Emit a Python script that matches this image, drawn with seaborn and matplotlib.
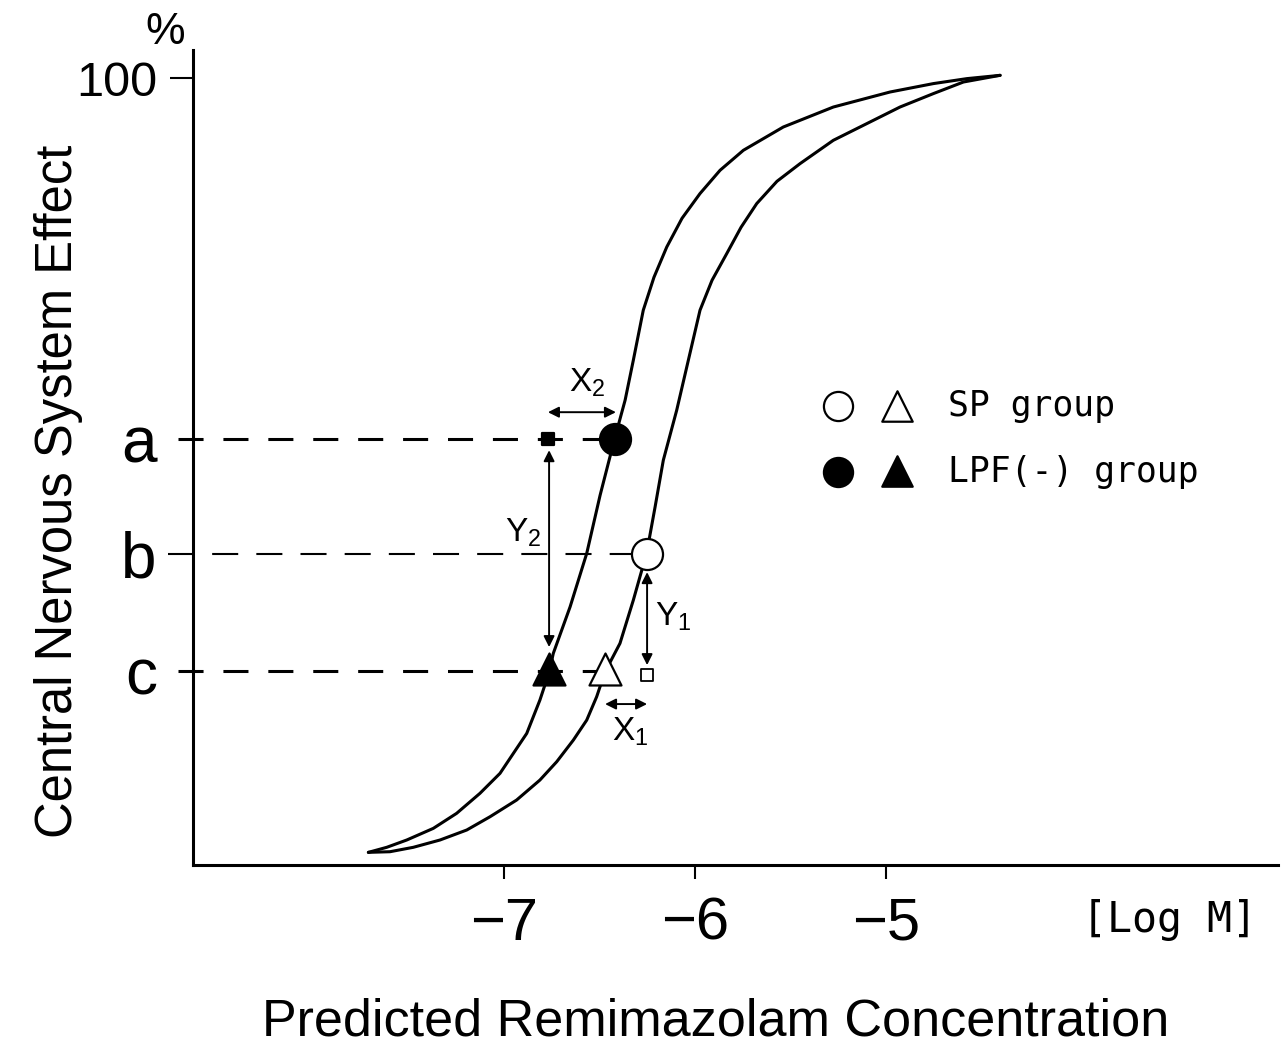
import matplotlib
matplotlib.use("Agg")
import matplotlib.pyplot as plt
import seaborn as sns
import pandas as pd

# curves: log M concentration vs CNS effect (%)
lpf_curve_x = [-7.710, -7.614, -7.509, -7.370, -7.248, -7.126, -7.021, -6.951, -6.881,
               -6.812, -6.763, -6.742, -6.654, -6.567, -6.497, -6.423, -6.366, -6.323,
               -6.271, -6.215, -6.148, -6.068, -5.974, -5.869, -5.747, -5.538, -5.276,
               -4.979, -4.752, -4.577, -4.403]
lpf_curve_y = [1.61, 2.25, 3.18, 4.66, 6.57, 9.11, 11.65, 14.19, 16.73,
               20.97, 24.56, 26.90, 32.82, 39.61, 47.0, 54.00, 59.09, 64.17,
               70.52, 74.71, 78.56, 82.21, 85.35, 88.31, 90.85, 93.81, 96.35,
               98.26, 99.33, 99.96, 100.38]
sp_curve_x = [-7.710, -7.597, -7.475, -7.335, -7.195, -7.073, -6.934, -6.812, -6.724,
              -6.637, -6.567, -6.515, -6.471, -6.393, -6.323, -6.253, -6.209, -6.166,
              -6.096, -6.035, -5.974, -5.911, -5.834, -5.759, -5.677, -5.571, -5.450,
              -5.276, -5.101, -4.927, -4.752, -4.595, -4.403]
sp_curve_y = [1.61, 1.69, 2.25, 3.18, 4.45, 6.14, 8.26, 10.80, 13.13,
              15.88, 18.42, 21.39, 24.56, 28.17, 33.67, 39.68, 45.53, 51.46,
              57.81, 64.17, 70.52, 74.33, 77.72, 81.07, 84.08, 86.91, 89.16,
              92.12, 94.24, 96.35, 98.06, 99.53, 100.38]

# effect levels a, b, c
level_names = ["a", "b", "c"]
level_values = [54.1, 39.5, 24.7]

# group points
sp_circle = (-6.251, 39.5)
sp_triangle = (-6.471, 24.9)
lpf_circle = (-6.42, 54.1)
lpf_triangle = (-6.764, 24.9)
ref_square_filled = (-6.770, 54.1)
ref_square_open = (-6.251, 24.2)

x_ticks = [-7, -6, -5]

df = pd.concat([
    pd.DataFrame({"logM": lpf_curve_x, "effect": lpf_curve_y, "group": "LPF(-)"}),
    pd.DataFrame({"logM": sp_curve_x, "effect": sp_curve_y, "group": "SP"}),
], ignore_index=True)

sns.set_style("ticks")
plt.rcParams["font.family"] = ["Liberation Sans", "DejaVu Sans"]
plt.rcParams["mathtext.fontset"] = "custom"
plt.rcParams["mathtext.rm"] = "Liberation Sans"
plt.rcParams["mathtext.it"] = "Liberation Sans:italic"
for key in ("text.color", "axes.labelcolor", "xtick.color", "ytick.color",
            "axes.edgecolor"):
    plt.rcParams[key] = "black"

fig = plt.figure(figsize=(12.85, 10.48), dpi=100)
ax = fig.add_axes([0.1502, 0.1746, 0.8444, 0.7777])

sns.lineplot(data=df, x="logM", y="effect", hue="group", palette=["black", "black"],
             estimator=None, sort=False, legend=False, lw=2.2, ax=ax,
             solid_capstyle="round", solid_joinstyle="round", zorder=3)

# dashed level lines (start just left of the axis)
x_left_a = -8.707
x_left_b = -8.759
ax.plot([x_left_a, lpf_circle[0]], [level_values[0]] * 2, color="black", lw=2.2,
        dashes=(8.2, 6.5), clip_on=False, zorder=2)
ax.plot([x_left_b, sp_circle[0]], [level_values[1]] * 2, color="black", lw=1.5,
        dashes=(12.5, 8.7), clip_on=False, zorder=2)
ax.plot([x_left_a, sp_triangle[0]], [level_values[2]] * 2, color="black", lw=2.2,
        dashes=(8.2, 6.5), clip_on=False, zorder=2)


def pt(p, marker, s, filled, lw=1.6):
    sns.scatterplot(x=[p[0]], y=[p[1]], marker=marker, s=s, ax=ax, zorder=5,
                    facecolor="black" if filled else "white", edgecolor="black",
                    linewidth=lw, clip_on=False)


pt(lpf_circle, "o", 500, True)
pt(sp_circle, "o", 500, False)
pt(lpf_triangle, "^", 530, True)
pt(sp_triangle, "^", 530, False)
pt(ref_square_filled, "s", 80, True)
pt(ref_square_open, "s", 85, False, lw=1.3)

# double arrows
arrow = dict(arrowstyle="<|-|>", lw=1.4, color="black", mutation_scale=16,
             shrinkA=0, shrinkB=0)
ax.annotate("", xy=(-6.414, 57.56), xytext=(-6.770, 57.56), arrowprops=arrow)
ax.annotate("", xy=(-6.764, 52.73), xytext=(-6.764, 27.70), arrowprops=arrow)
ax.annotate("", xy=(-6.251, 37.23), xytext=(-6.251, 25.41), arrowprops=arrow)
ax.annotate("", xy=(-6.251, 20.46), xytext=(-6.471, 20.46), arrowprops=arrow)

lab = dict(fontsize=24, ha="center", va="center")
ax.text(-6.565, 61.25, "X$_2$", **lab)
ax.text(-6.900, 42.19, "Y$_2$", **lab)
ax.text(-6.115, 31.51, "Y$_1$", **lab)
ax.text(-6.340, 16.90, "X$_1$", **lab)

# legend drawn by hand
leg_font = dict(family=["DejaVu Sans Mono"], fontsize=25, va="center", ha="left")
pt((-5.251, 58.32), "o", 440, False)
pt((-4.942, 58.32), "^", 480, False)
pt((-5.251, 49.94), "o", 440, True)
pt((-4.942, 50.10), "^", 480, True)
ax.text(-4.675, 58.32, "SP group", **leg_font)
ax.text(-4.675, 49.94, "LPF(-) group", **leg_font)

# axes
ax.set_xlim(-8.628, -2.948)
ax.set_ylim(0, 103.6)
sns.despine(ax=ax)
for sp in ("left", "bottom"):
    ax.spines[sp].set_linewidth(2.2)

ax.set_xticks(x_ticks)
ax.set_xticklabels([f"\u2212{abs(t)}" for t in x_ticks], fontsize=43)
ax.tick_params(axis="x", length=10, width=1.5, pad=13, direction="out")

ax.set_yticks([100])
ax.set_yticklabels(["100"], fontsize=35)
ax.tick_params(axis="y", which="major", length=16.5, width=1.5, pad=9.4)
ax.set_yticks(level_values, minor=True)
ax.set_yticklabels(level_names, minor=True, fontsize=46)
ax.tick_params(axis="y", which="minor", length=0, pad=26)

ax.set_xlabel("")
ax.set_ylabel("")

fig.text(165 / 1285, 1 - 33 / 1048, "%", fontsize=32, ha="center", va="center")
fig.text(1170 / 1285, 1 - 920 / 1048, "[Log M]", family=["DejaVu Sans Mono"],
         fontsize=30, ha="center", va="center")
fig.text(716 / 1285, 1 - 1036 / 1048, "Predicted Remimazolam Concentration",
         fontsize=37.5, ha="center", va="baseline")
fig.text(72 / 1285, 1 - 491 / 1048, "Central Nervous System Effect", fontsize=36.5,
         rotation=90, rotation_mode="anchor", ha="center", va="baseline")

fig.savefig("out.png", dpi=100)
